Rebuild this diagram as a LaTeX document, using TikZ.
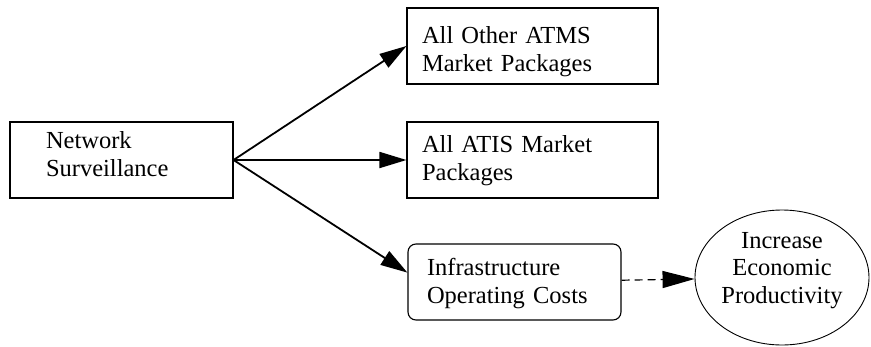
\documentclass[tikz,border=0pt]{standalone}
\usepackage{fontspec}
\setmainfont{Liberation Serif}[WordSpace=0.65]
\usetikzlibrary{arrows.meta,shapes.geometric}
\begin{document}
\begin{tikzpicture}[x=1pt, y=-1pt,
    every node/.style={draw, line width=1.1pt, minimum height=76pt, font=\fontsize{24.5}{28.5}\selectfont},
    pkgbox/.style={rectangle, align=left, inner xsep=15pt, text width=221pt, minimum width=251pt},
    flow/.style={line width=1.8pt, -{Triangle[length=27pt,width=16pt]}}]
  \useasboundingbox (0,0) rectangle (871,346);
  \node (surv) at (121.5,160) [rectangle, align=left, inner xsep=36pt, text width=151pt, minimum width=223pt, text height=12pt, text depth=36pt] {Network\\Surveillance};
  \node (atms) at (532.5,46) [pkgbox, text height=18pt, text depth=24pt] {All Other ATMS\\Market Packages};
  \node (atis) at (532.5,160) [pkgbox, text height=14pt, text depth=30pt] {All ATIS Market\\Packages};
  \node (infra) at (514.5,282) [rectangle, rounded corners=8pt, align=left, inner xsep=19pt, text width=175pt, minimum width=213pt, text height=15pt, text depth=29pt] {Infrastructure\\Operating Costs};
  \node (prod) at (782,277.5) [ellipse, line width=0.9pt, align=center, inner sep=0pt, text width=122pt, minimum width=174pt, minimum height=135pt, text height=10pt, text depth=69pt, font=\fontsize{24.5}{27.5}\selectfont] {Increase\\Economic\\Productivity};
  \foreach \dest in {atms.west, atis.west, infra.175}
    \draw[flow] (surv.east) -- (\dest);
  \draw[line width=1.2pt, dash pattern=on 8pt off 5pt, -{Triangle[length=32pt,width=17pt]}] (infra) -- (prod);
\end{tikzpicture}
\end{document}
